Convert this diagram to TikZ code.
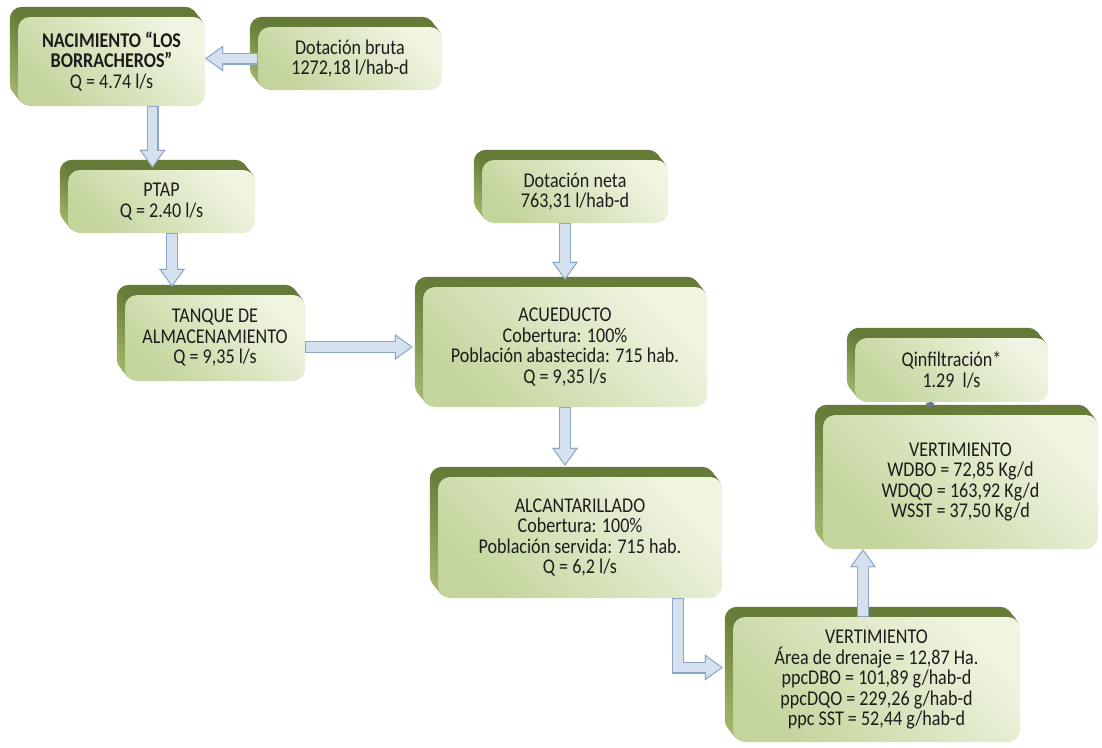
\documentclass[tikz,border=0pt]{standalone}
\usepackage{fontspec}
\setmainfont{Carlito}[FakeStretch=0.86]
\usepackage{tikz}
\usetikzlibrary{arrows.meta,backgrounds}

\definecolor{faceL}{HTML}{F0F5E2}
\definecolor{faceD}{HTML}{C3D59C}
\definecolor{bevelD}{HTML}{667B37}
\definecolor{bevelL}{HTML}{A6BC6F}
\definecolor{arrowB}{HTML}{8EA6C6}
\definecolor{arrowF}{HTML}{D5E1EF}
\definecolor{ink}{HTML}{1C1C1C}

% block arrow: rim first, light body on top
\newcommand{\flowarrow}[2][0]{%
  \draw[arrowrim,shorten >=#1pt] #2;
  \draw[arrowbody,shorten >=#1pt+2pt] #2;
}

\begin{document}
\begin{tikzpicture}[
    x=1pt, y=-1pt,
    box/.style={rounded corners=12pt, inner sep=0pt, align=center, text=ink,
      font=\fontsize{21}{20.5}\selectfont,
      top color=faceL, bottom color=faceD, shading angle=-45},
    bevel/.style={rounded corners=12pt, top color=bevelD, bottom color=bevelL},
    arrowrim/.style={line width=12pt, draw=arrowB,
      -{Triangle[width=26pt,length=18pt,line width=0.1pt,fill=arrowB]}},
    arrowbody/.style={line width=9.6pt, draw=arrowF, shorten <=1.2pt,
      -{Triangle[width=21.3pt,length=14.8pt,line width=0.1pt,fill=arrowF]}},
    seep/.style={line width=3pt, draw=arrowB!70!black, shorten >=6pt,
      -{Triangle[width=9pt,length=6pt,line width=0.1pt]}}
  ]
  \useasboundingbox (0,0) rectangle (1102,747);

  % supply side
  \node[box, minimum width=187pt, minimum height=89pt] (nac) at (111.5,61.5)
    {\textbf{NACIMIENTO “LOS}\\\textbf{BORRACHEROS”}\\Q = 4.74 l/s};
  \node[box, minimum width=184pt, minimum height=63pt] (dbruta) at (350,58.5)
    {Dotación bruta\\1272,18 l/hab-d};
  \node[box, minimum width=187pt, minimum height=63pt] (ptap) at (161.5,201.5)
    {PTAP\\Q = 2.40 l/s};
  \node[box, minimum width=180pt, minimum height=86pt] (tanque) at (215,338)
    {TANQUE DE\\ALMACENAMIENTO\\Q = 9,35 l/s};
  \node[box, minimum width=186pt, minimum height=63pt] (dneta) at (575,191.5)
    {Dotación neta\\763,31 l/hab-d};
  \node[box, minimum width=284pt, minimum height=120pt] (acu) at (565,347)
    {ACUEDUCTO\\Cobertura: 100\%\\Población abastecida: 715 hab.\\Q = 9,35 l/s};

  % sewer side
  \node[box, minimum width=284pt, minimum height=121pt] (alc) at (580,537.5)
    {ALCANTARILLADO\\Cobertura: 100\%\\Población servida: 715 hab.\\Q = 6,2 l/s};
  \node[box, minimum width=287pt, minimum height=125pt] (vert2) at (876.5,679.5)
    {VERTIMIENTO\\Área de drenaje = 12,87 Ha.\\ppcDBO = 101,89 g/hab-d\\ppcDQO = 229,26 g/hab-d\\ppc SST = 52,44 g/hab-d};
  \node[box, minimum width=275pt, minimum height=134pt] (vert1) at (960.5,482)
    {VERTIMIENTO\\WDBO = 72,85 Kg/d\\WDQO = 163,92 Kg/d\\WSST = 37,50 Kg/d};
  \node[box, minimum width=193pt, minimum height=64pt] (qinf) at (951.5,370)
    {Qinfiltración*\\1.29\ \ l/s};

  % extruded edge behind every box
  \begin{scope}[on background layer]
    \foreach \n in {nac,dbruta,ptap,tanque,dneta,acu,alc,vert1,vert2,qinf}
      \foreach \k in {10,...,1}
        \shade[bevel] ([shift={(-0.8*\k,-\k)}]\n.south west) rectangle ([shift={(-0.8*\k,-\k)}]\n.north east);
  \end{scope}

  \coordinate (pin) at ([xshift=-9pt]ptap.north);
  \coordinate (tin) at ([xshift=10.5pt]ptap.south);
  \coordinate (drop) at ([xshift=98pt]alc.south);
  \coordinate (vin) at ([yshift=12pt]vert2.west);
  \coordinate (rise) at ([xshift=-13.5pt]vert2.north);
  \coordinate (seepin) at ([xshift=-21.5pt]qinf.south);

  \flowarrow{(dbruta.west) -- (dbruta.west -| nac.east)}
  \flowarrow[2]{(pin |- nac.south) -- (pin)}
  \flowarrow[8]{(tin) -- (tin |- tanque.north)}
  \flowarrow[10]{(tanque.east |- acu.west) -- (acu.west)}
  \flowarrow[7]{(dneta.south -| acu.north) -- (acu.north)}
  \flowarrow[11]{(acu.south) -- (acu.south |- alc.north)}
  \flowarrow[10]{(drop) |- (vin)}
  \flowarrow{(rise) -- (rise |- vert1.south)}
  \draw[seep] (seepin) -- (seepin |- vert1.north);
\end{tikzpicture}
\end{document}
